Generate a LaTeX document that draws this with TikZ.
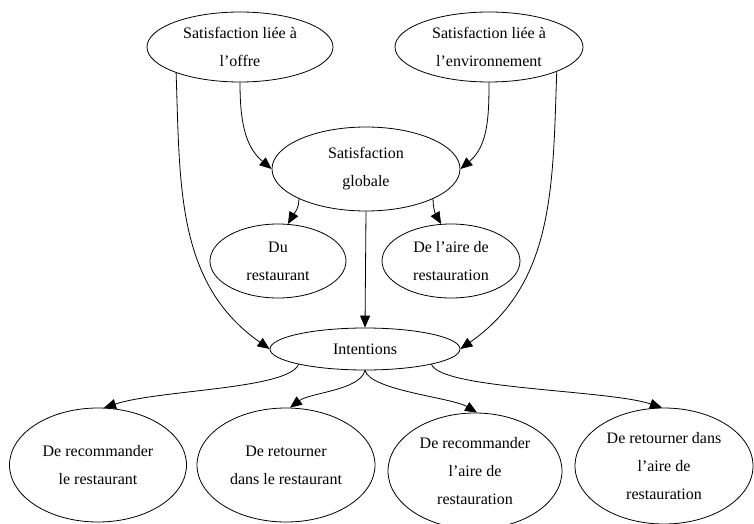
\documentclass[tikz,border=0pt]{standalone}
\usepackage{fontspec}
\setmainfont{Liberation Serif}
\usetikzlibrary{shapes.geometric,arrows.meta}

\tikzset{
  bulle/.style={draw, ellipse, inner sep=0pt, align=center,
    font=\fontsize{16}{28}\selectfont},
  fleche/.style={-{Triangle[length=12pt,width=10pt]}},
}

\begin{document}
\begin{tikzpicture}[x=1pt,y=1pt,line width=0.8pt]
      \useasboundingbox (0,0) rectangle (754,-524) ;
      % satisfactions
      \node[bulle,minimum width=186pt,minimum height=70pt] (offre) at (240,-47) {Satisfaction liée à\\l’offre} ;
      \node[bulle,minimum width=188pt,minimum height=70pt] (env) at (489,-47) {Satisfaction liée à\\l’environnement} ;
      \node[bulle,minimum width=188pt,minimum height=84pt] (sg) at (366,-169) {Satisfaction\\globale} ;
      \node[bulle,minimum width=136pt,minimum height=74pt] (du) at (278,-261) {Du\\restaurant} ;
      \node[bulle,minimum width=138pt,minimum height=74pt] (aire) at (451,-261) {De l’aire de\\restauration} ;
      % intentions
      \node[bulle,minimum width=190pt,minimum height=42pt] (int) at (365,-349) {Intentions} ;
      \node[bulle,minimum width=177pt,minimum height=114pt] (r1) at (98,-465) {De recommander\\le restaurant} ;
      \node[bulle,minimum width=178pt,minimum height=114pt] (r2) at (286,-465) {De retourner\\dans le restaurant} ;
      \node[bulle,minimum width=174pt,minimum height=116pt] (r3) at (475,-471) {De recommander\\l’aire de\\restauration} ;
      \node[bulle,minimum width=178pt,minimum height=116pt] (r4) at (664,-466) {De retourner dans\\l’aire de\\restauration} ;
      \draw[fleche] (offre.202) to[out=-88,in=145] (int.west) ;
      \draw[fleche] (offre.south) to[out=-90,in=140] (sg.west) ;
      \draw[fleche] (env.south) to[out=-90,in=40] (sg.east) ;
      \draw[fleche] (env.340) to[out=-92,in=35] (int.east) ;
      \draw[fleche] (sg.204) to[out=-90,in=60] (du.75) ;
      \draw[fleche] (sg.336) to[out=-90,in=120] (aire.105) ;
      \draw[fleche] (sg.south) -- (int.north) ;
      \draw[fleche] (int.193) .. controls +(-10,-25) and +(55,18) .. (r1.84) ;
      \draw[fleche] (int.south) .. controls +(-5,-20) and +(20,15) .. (r2.86) ;
      \draw[fleche] (int.south) .. controls +(5,-20) and +(-25,15) .. (r3.88) ;
      \draw[fleche] (int.347) .. controls +(10,-25) and +(-55,18) .. (r4.92) ;
    \end{tikzpicture}
\end{document}
